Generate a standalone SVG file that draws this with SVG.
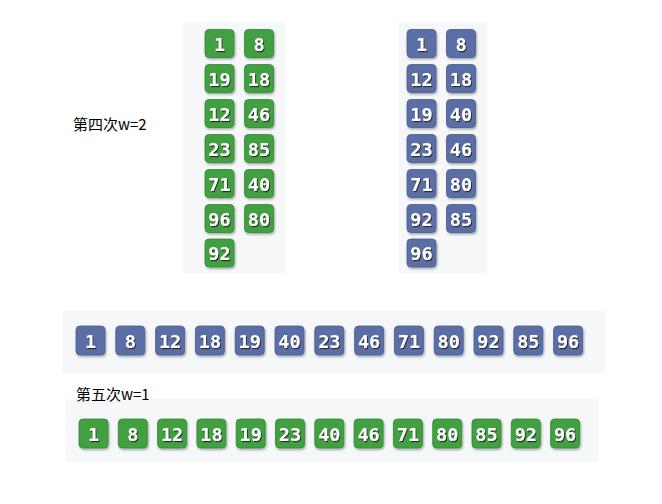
<svg xmlns="http://www.w3.org/2000/svg" width="662" height="504" viewBox="0 0 662 504">
<defs>
<filter id="bs" x="-20%" y="-20%" width="150%" height="150%"><feDropShadow dx="1" dy="1.5" stdDeviation="1" flood-color="#000" flood-opacity="0.35"/></filter>
<filter id="ts" x="-20%" y="-20%" width="150%" height="150%"><feDropShadow dx="1" dy="1.2" stdDeviation="0.4" flood-color="#1a1a1a" flood-opacity="0.85"/></filter>
</defs>
<style>
.panel{fill:#f5f7f9}
.g{fill:#42a042;stroke:#2f8a2f;stroke-width:0.8}
.b{fill:#5b6ea6;stroke:#4a5c92;stroke-width:0.8}
.box{filter:url(#bs)}
.n{font-family:"DejaVu Sans Mono",monospace;font-weight:bold;font-size:18.5px;fill:#fff;text-anchor:middle;filter:url(#ts)}
.lbl{font-family:"Noto Sans CJK SC","DejaVu Sans",sans-serif;font-size:15px;fill:#000}
</style>
<rect width="662" height="504" fill="#fff"/>
<rect class="panel" x="183" y="22" width="102" height="251"/>
<rect class="panel" x="398" y="22" width="89" height="251"/>
<rect class="panel" x="62" y="311" width="543" height="62"/>
<rect class="panel" x="66" y="399" width="532" height="63"/>
<text class="lbl" x="73" y="130">第四次w=2</text>
<text class="lbl" x="76" y="400">第五次w=1</text>
<g id="tl">
<g id="tl1"><rect class="g box" x="205" y="29.5" width="29" height="28" rx="4"/><text class="n" x="219.5" y="50.5">1</text></g>
<g id="tl2"><rect class="g box" x="205" y="64.5" width="29" height="28" rx="4"/><text class="n" x="219.5" y="85.5">19</text></g>
<g id="tl3"><rect class="g box" x="205" y="99.5" width="29" height="28" rx="4"/><text class="n" x="219.5" y="120.5">12</text></g>
<g id="tl4"><rect class="g box" x="205" y="134.5" width="29" height="28" rx="4"/><text class="n" x="219.5" y="155.5">23</text></g>
<g id="tl5"><rect class="g box" x="205" y="169.5" width="29" height="28" rx="4"/><text class="n" x="219.5" y="190.5">71</text></g>
<g id="tl6"><rect class="g box" x="205" y="204.5" width="29" height="28" rx="4"/><text class="n" x="219.5" y="225.5">96</text></g>
<g id="tl7"><rect class="g box" x="205" y="239" width="29" height="28" rx="4"/><text class="n" x="219.5" y="260">92</text></g>
<g id="tl8"><rect class="g box" x="244.5" y="29.5" width="29" height="28" rx="4"/><text class="n" x="259" y="50.5">8</text></g>
<g id="tl9"><rect class="g box" x="244.5" y="64.5" width="29" height="28" rx="4"/><text class="n" x="259" y="85.5">18</text></g>
<g id="tl10"><rect class="g box" x="244.5" y="99.5" width="29" height="28" rx="4"/><text class="n" x="259" y="120.5">46</text></g>
<g id="tl11"><rect class="g box" x="244.5" y="134.5" width="29" height="28" rx="4"/><text class="n" x="259" y="155.5">85</text></g>
<g id="tl12"><rect class="g box" x="244.5" y="169.5" width="29" height="28" rx="4"/><text class="n" x="259" y="190.5">40</text></g>
<g id="tl13"><rect class="g box" x="244.5" y="204.5" width="29" height="28" rx="4"/><text class="n" x="259" y="225.5">80</text></g>
</g>
<g id="tr">
<g id="tr1"><rect class="b box" x="407" y="29.5" width="29" height="28" rx="4"/><text class="n" x="421.5" y="50.5">1</text></g>
<g id="tr2"><rect class="b box" x="407" y="64.5" width="29" height="28" rx="4"/><text class="n" x="421.5" y="85.5">12</text></g>
<g id="tr3"><rect class="b box" x="407" y="99.5" width="29" height="28" rx="4"/><text class="n" x="421.5" y="120.5">19</text></g>
<g id="tr4"><rect class="b box" x="407" y="134.5" width="29" height="28" rx="4"/><text class="n" x="421.5" y="155.5">23</text></g>
<g id="tr5"><rect class="b box" x="407" y="169.5" width="29" height="28" rx="4"/><text class="n" x="421.5" y="190.5">71</text></g>
<g id="tr6"><rect class="b box" x="407" y="204.5" width="29" height="28" rx="4"/><text class="n" x="421.5" y="225.5">92</text></g>
<g id="tr7"><rect class="b box" x="407" y="239" width="29" height="28" rx="4"/><text class="n" x="421.5" y="260">96</text></g>
<g id="tr8"><rect class="b box" x="446.5" y="29.5" width="29" height="28" rx="4"/><text class="n" x="461" y="50.5">8</text></g>
<g id="tr9"><rect class="b box" x="446.5" y="64.5" width="29" height="28" rx="4"/><text class="n" x="461" y="85.5">18</text></g>
<g id="tr10"><rect class="b box" x="446.5" y="99.5" width="29" height="28" rx="4"/><text class="n" x="461" y="120.5">40</text></g>
<g id="tr11"><rect class="b box" x="446.5" y="134.5" width="29" height="28" rx="4"/><text class="n" x="461" y="155.5">46</text></g>
<g id="tr12"><rect class="b box" x="446.5" y="169.5" width="29" height="28" rx="4"/><text class="n" x="461" y="190.5">80</text></g>
<g id="tr13"><rect class="b box" x="446.5" y="204.5" width="29" height="28" rx="4"/><text class="n" x="461" y="225.5">85</text></g>
</g>
<g id="r1">
<g id="r1a"><rect class="b box" x="76" y="326" width="29" height="29" rx="4"/><text class="n" x="90.5" y="347.5">1</text></g>
<g id="r1b"><rect class="b box" x="115.8" y="326" width="29" height="29" rx="4"/><text class="n" x="130.3" y="347.5">8</text></g>
<g id="r1c"><rect class="b box" x="155.6" y="326" width="29" height="29" rx="4"/><text class="n" x="170.1" y="347.5">12</text></g>
<g id="r1d"><rect class="b box" x="195.4" y="326" width="29" height="29" rx="4"/><text class="n" x="209.9" y="347.5">18</text></g>
<g id="r1e"><rect class="b box" x="235.2" y="326" width="29" height="29" rx="4"/><text class="n" x="249.7" y="347.5">19</text></g>
<g id="r1f"><rect class="b box" x="275" y="326" width="29" height="29" rx="4"/><text class="n" x="289.5" y="347.5">40</text></g>
<g id="r1g"><rect class="b box" x="314.8" y="326" width="29" height="29" rx="4"/><text class="n" x="329.3" y="347.5">23</text></g>
<g id="r1h"><rect class="b box" x="354.6" y="326" width="29" height="29" rx="4"/><text class="n" x="369.1" y="347.5">46</text></g>
<g id="r1i"><rect class="b box" x="394.4" y="326" width="29" height="29" rx="4"/><text class="n" x="408.9" y="347.5">71</text></g>
<g id="r1j"><rect class="b box" x="434.2" y="326" width="29" height="29" rx="4"/><text class="n" x="448.7" y="347.5">80</text></g>
<g id="r1k"><rect class="b box" x="474" y="326" width="29" height="29" rx="4"/><text class="n" x="488.5" y="347.5">92</text></g>
<g id="r1l"><rect class="b box" x="513.8" y="326" width="29" height="29" rx="4"/><text class="n" x="528.3" y="347.5">85</text></g>
<g id="r1m"><rect class="b box" x="553.6" y="326" width="29" height="29" rx="4"/><text class="n" x="568.1" y="347.5">96</text></g>
</g>
<g id="r2">
<g id="r2a"><rect class="g box" x="79" y="419" width="29" height="29" rx="4"/><text class="n" x="93.5" y="440.5">1</text></g>
<g id="r2b"><rect class="g box" x="118.3" y="419" width="29" height="29" rx="4"/><text class="n" x="132.8" y="440.5">8</text></g>
<g id="r2c"><rect class="g box" x="157.6" y="419" width="29" height="29" rx="4"/><text class="n" x="172.1" y="440.5">12</text></g>
<g id="r2d"><rect class="g box" x="196.9" y="419" width="29" height="29" rx="4"/><text class="n" x="211.4" y="440.5">18</text></g>
<g id="r2e"><rect class="g box" x="236.2" y="419" width="29" height="29" rx="4"/><text class="n" x="250.7" y="440.5">19</text></g>
<g id="r2f"><rect class="g box" x="275.5" y="419" width="29" height="29" rx="4"/><text class="n" x="290" y="440.5">23</text></g>
<g id="r2g"><rect class="g box" x="314.8" y="419" width="29" height="29" rx="4"/><text class="n" x="329.3" y="440.5">40</text></g>
<g id="r2h"><rect class="g box" x="354.1" y="419" width="29" height="29" rx="4"/><text class="n" x="368.6" y="440.5">46</text></g>
<g id="r2i"><rect class="g box" x="393.4" y="419" width="29" height="29" rx="4"/><text class="n" x="407.9" y="440.5">71</text></g>
<g id="r2j"><rect class="g box" x="432.7" y="419" width="29" height="29" rx="4"/><text class="n" x="447.2" y="440.5">80</text></g>
<g id="r2k"><rect class="g box" x="472" y="419" width="29" height="29" rx="4"/><text class="n" x="486.5" y="440.5">85</text></g>
<g id="r2l"><rect class="g box" x="511.3" y="419" width="29" height="29" rx="4"/><text class="n" x="525.8" y="440.5">92</text></g>
<g id="r2m"><rect class="g box" x="550.6" y="419" width="29" height="29" rx="4"/><text class="n" x="565.1" y="440.5">96</text></g>
</g>
<g id="connectors"/>
</svg>
